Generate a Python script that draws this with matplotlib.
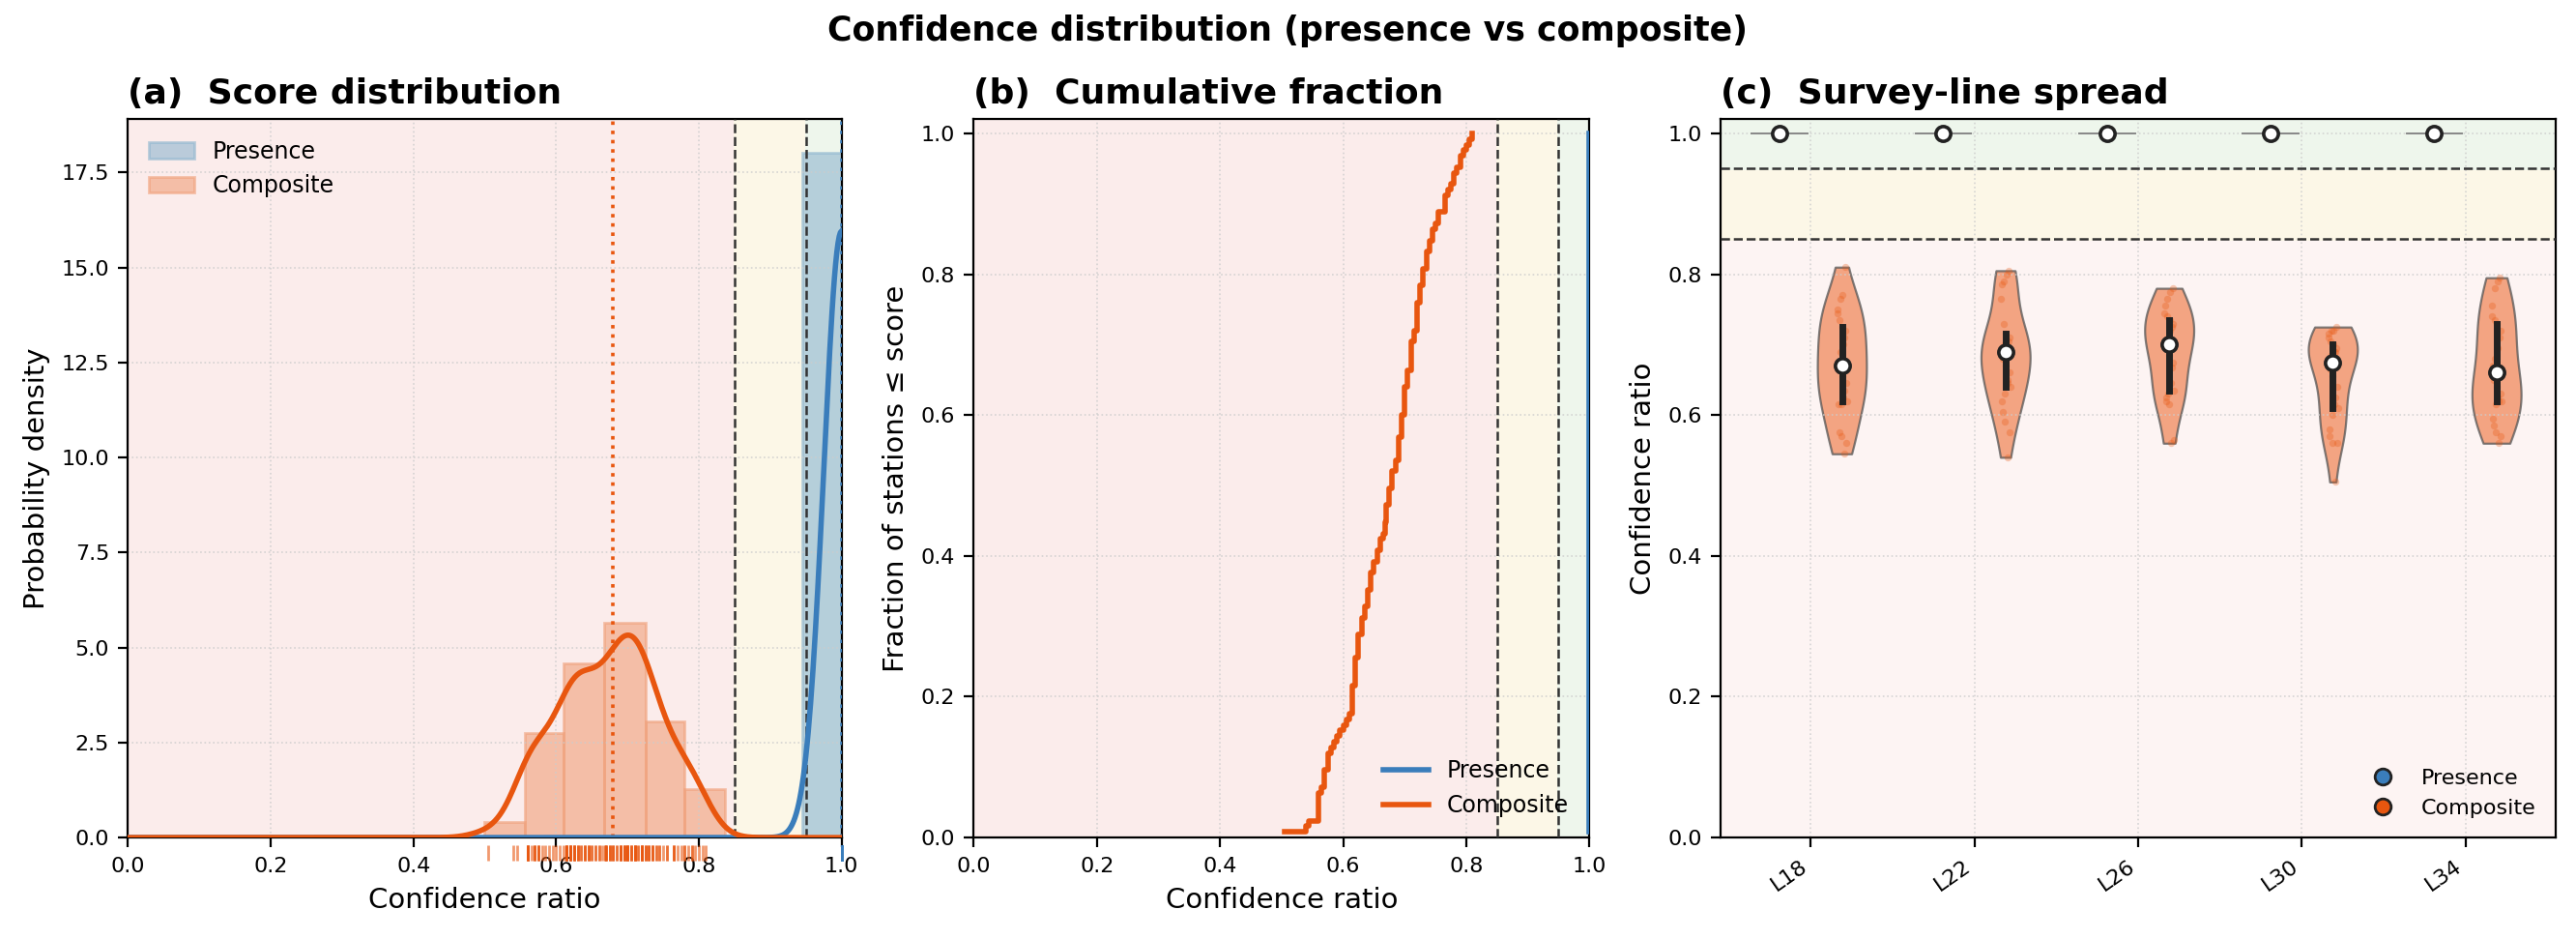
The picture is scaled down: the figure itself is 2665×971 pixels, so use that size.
import numpy as np
import matplotlib
matplotlib.use("Agg")
import matplotlib.pyplot as plt
import matplotlib.transforms as mtransforms
from matplotlib.lines import Line2D

# —–––– Data —––––
lines = ["L18", "L22", "L26", "L30", "L34"]
comp_L18 = [0.545, 0.56, 0.57, 0.575, 0.615, 0.615, 0.62, 0.625, 0.635, 0.645, 0.655, 0.668, 0.67,
            0.675, 0.69, 0.70, 0.71, 0.72, 0.725, 0.735, 0.745, 0.75, 0.765, 0.77, 0.81]
comp_L22 = [0.54, 0.575, 0.59, 0.605, 0.62, 0.63, 0.64, 0.645, 0.65, 0.66, 0.67, 0.68, 0.69,
            0.695, 0.70, 0.70, 0.705, 0.71, 0.715, 0.73, 0.765, 0.785, 0.79, 0.80, 0.805]
comp_L26 = [0.56, 0.565, 0.615, 0.62, 0.625, 0.63, 0.635, 0.645, 0.668, 0.675, 0.685, 0.695, 0.70,
            0.705, 0.71, 0.72, 0.725, 0.73, 0.735, 0.74, 0.745, 0.755, 0.765, 0.775, 0.78]
comp_L30 = [0.505, 0.56, 0.56, 0.57, 0.58, 0.60, 0.61, 0.615, 0.625, 0.64, 0.655, 0.665, 0.675,
            0.68, 0.685, 0.69, 0.69, 0.695, 0.70, 0.705, 0.71, 0.715, 0.72, 0.72, 0.725]
comp_L34 = [0.56, 0.57, 0.575, 0.585, 0.595, 0.615, 0.62, 0.625, 0.62, 0.63, 0.64, 0.65, 0.66,
            0.67, 0.68, 0.695, 0.71, 0.72, 0.73, 0.735, 0.74, 0.755, 0.78, 0.79, 0.795]
comp_by_line = [comp_L18, comp_L22, comp_L26, comp_L30, comp_L34]
pres_by_line = [[1.0] * 25 for _ in lines]

composite = np.concatenate(comp_by_line)
presence = np.concatenate(pres_by_line)

thr_low, thr_high = 0.85, 0.95
comp_bins = [0.499, 0.556, 0.611, 0.667, 0.725, 0.780, 0.836]
pres_bins = [0.9445, 1.0]

C_PRES = "#3a7dbb"
C_COMP = "#e8560f"
Z_RED, Z_YEL, Z_GRN = "#fbeceb", "#fcf7e7", "#eef6ec"


def kde(data, grid, bw):
    d = np.asarray(data)[:, None]
    return np.exp(-0.5 * ((grid[None, :] - d) / bw) ** 2).sum(0) / (len(data) * bw * np.sqrt(2 * np.pi))


def zones_x(ax):
    ax.axvspan(0, thr_low, color=Z_RED, zorder=0)
    ax.axvspan(thr_low, thr_high, color=Z_YEL, zorder=0)
    ax.axvspan(thr_high, 1.0, color=Z_GRN, zorder=0)
    ax.axvline(thr_low, color="#333333", ls="--", lw=0.9, zorder=3)
    ax.axvline(thr_high, color="#333333", ls="--", lw=0.9, zorder=3)


plt.rcParams["font.family"] = ["DejaVu Sans"]
fig = plt.figure(figsize=(13.325, 4.855), dpi=200)
bot, hgt = 0.108, 0.765
ax1 = fig.add_axes([0.0497, bot, 0.277, hgt])
ax2 = fig.add_axes([0.378, bot, 0.239, hgt])
ax3 = fig.add_axes([0.668, bot, 0.324, hgt])
fig.suptitle("Confidence distribution (presence vs composite)", fontsize=12.5, fontweight="bold", y=0.985)

# —–––– (a) Score distribution —––––
zones_x(ax1)
ax1.hist(presence, bins=pres_bins, density=True, color="#8fb6cf", alpha=0.6,
         edgecolor="#8fb6cf", label="Presence", zorder=1)
ax1.hist(composite, bins=comp_bins, density=True, color="#f0a07a", alpha=0.6,
         edgecolor="#f0a07a", label="Composite", zorder=1)
grid = np.linspace(0, 1, 600)
ax1.plot(grid, kde(presence, grid, 0.025), color=C_PRES, lw=2, zorder=4)
bw = 1.06 * composite.std() * len(composite) ** (-0.2) * 0.9
ax1.plot(grid, kde(composite, grid, bw), color=C_COMP, lw=2, zorder=4)
ax1.axvline(np.median(composite), color=C_COMP, ls=":", lw=1.3, zorder=3)
ax1.axvline(np.median(presence), color=C_PRES, ls=":", lw=1.3, zorder=3)
trans = mtransforms.blended_transform_factory(ax1.transData, ax1.transAxes)
ax1.plot(composite, np.full(len(composite), -0.022), "|", color=C_COMP, alpha=0.6,
         ms=6, transform=trans, clip_on=False)
ax1.plot(presence, np.full(len(presence), -0.022), "|", color=C_PRES, alpha=0.6,
         ms=6, transform=trans, clip_on=False)
ax1.set_xlim(0, 1)
ax1.set_ylim(0, 18.9)
ax1.set_xlabel("Confidence ratio", fontsize=10.5)
ax1.set_ylabel("Probability density", fontsize=10.5)
ax1.set_title("(a)  Score distribution", loc="left", fontsize=13, fontweight="bold")
ax1.legend(loc="upper left", frameon=False, fontsize=8.5)
ax1.tick_params(labelsize=8)
ax1.grid(True, ls=":", color="#cccccc", lw=0.6, alpha=0.8)

# —–––– (b) Cumulative fraction —––––
zones_x(ax2)
for data, col, lab in [(presence, C_PRES, "Presence"), (composite, C_COMP, "Composite")]:
    xs = np.sort(data)
    ys = np.arange(1, len(xs) + 1) / len(xs)
    ax2.step(xs, ys, where="post", color=col, lw=2, label=lab, zorder=4)
ax2.set_xlim(0, 1)
ax2.set_ylim(0, 1.02)
ax2.set_xlabel("Confidence ratio", fontsize=10.5)
ax2.set_ylabel("Fraction of stations ≤ score", fontsize=10.5)
ax2.set_title("(b)  Cumulative fraction", loc="left", fontsize=13, fontweight="bold")
ax2.legend(loc="lower right", frameon=False, fontsize=8.5)
ax2.tick_params(labelsize=8)
ax2.grid(True, ls=":", color="#cccccc", lw=0.6, alpha=0.8)

# —–––– (c) Survey-line spread —––––
ax3.axhspan(0, thr_low, color="#fdf4f3", zorder=0)
ax3.axhspan(thr_low, thr_high, color=Z_YEL, zorder=0)
ax3.axhspan(thr_high, 1.02, color=Z_GRN, zorder=0)
ax3.axhline(thr_low, color="#333333", ls="--", lw=0.9, zorder=3)
ax3.axhline(thr_high, color="#333333", ls="--", lw=0.9, zorder=3)
pos = np.arange(len(lines))
off = 0.19
for i, (pv, cv) in enumerate(zip(pres_by_line, comp_by_line)):
    # presence: all values identical, violin collapses to a flat line
    ax3.plot([i - off - 0.17, i - off + 0.17], [np.median(pv)] * 2, color="#888888", lw=0.7, zorder=3)
    ax3.plot(i - off, np.median(pv), "o", mfc="white", mec="#222222", mew=1.3, ms=5.5, zorder=6)
    vp = ax3.violinplot([cv], positions=[i + off], widths=0.3, showextrema=False)
    for b in vp["bodies"]:
        b.set_facecolor("#f08a5d")
        b.set_edgecolor("#555555")
        b.set_alpha(0.75)
        b.set_linewidth(0.8)
    jit = np.linspace(-0.03, 0.03, len(cv))[np.argsort(np.sin(np.arange(len(cv)) * 7.3))]
    ax3.scatter(i + off + jit, cv, s=7, color=C_COMP, alpha=0.3, lw=0, zorder=4)
    q1, med, q3 = np.percentile(cv, [25, 50, 75])
    ax3.plot([i + off] * 2, [q1, q3], color="#222222", lw=2.5, zorder=5)
    ax3.plot(i + off, med, "o", mfc="white", mec="#222222", mew=1.3, ms=5.5, zorder=6)
ax3.set_xticks(pos)
ax3.set_xticklabels(lines, rotation=35, ha="right", fontsize=8)
ax3.set_xlim(-0.55, 4.55)
ax3.set_ylim(0, 1.02)
ax3.set_ylabel("Confidence ratio", fontsize=10.5)
ax3.set_title("(c)  Survey-line spread", loc="left", fontsize=13, fontweight="bold")
ax3.tick_params(labelsize=8)
ax3.grid(True, ls=":", color="#cccccc", lw=0.6, alpha=0.8)
handles = [Line2D([], [], marker="o", ls="", mfc=C_PRES, mec="#222222", ms=6, label="Presence"),
           Line2D([], [], marker="o", ls="", mfc=C_COMP, mec="#222222", ms=6, label="Composite")]
ax3.legend(handles=handles, loc="lower right", frameon=False, fontsize=8)

fig.savefig("out.png", dpi=200)
